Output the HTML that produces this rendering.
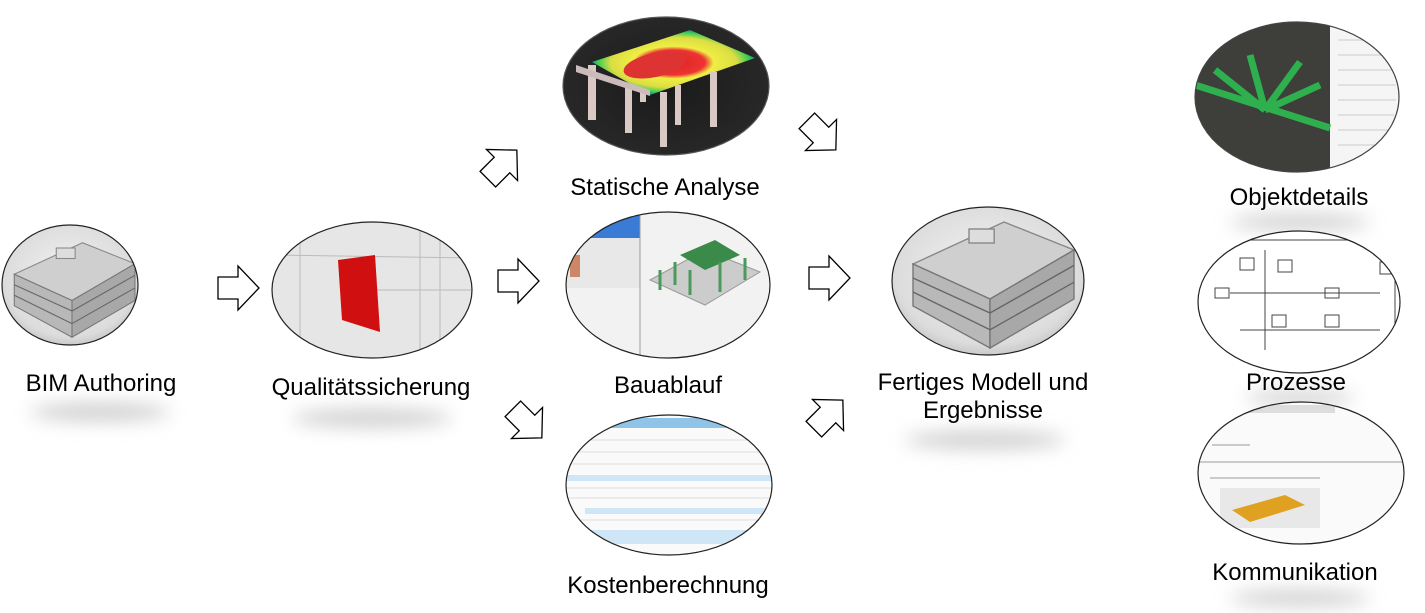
<!DOCTYPE html>
<html><head><meta charset="utf-8"><style>
html,body{margin:0;padding:0;background:#fff;}
svg{display:block;}
text{font-family:"Liberation Sans",Arial,sans-serif;font-size:24px;fill:#000;}
</style></head><body>
<svg width="1425" height="613" viewBox="0 0 1425 613" xmlns="http://www.w3.org/2000/svg">
<defs>
<filter id="blur" x="-50%" y="-50%" width="200%" height="200%"><feGaussianBlur stdDeviation="9"/></filter>
<radialGradient id="lg" cx="50%" cy="45%" r="60%"><stop offset="0" stop-color="#f4f4f4"/><stop offset="0.8" stop-color="#dcdcdc"/><stop offset="1" stop-color="#bdbdbd"/></radialGradient>
<radialGradient id="dk" cx="50%" cy="50%" r="60%"><stop offset="0" stop-color="#1a1a1a"/><stop offset="1" stop-color="#2a2a2a"/></radialGradient>
<radialGradient id="heat" cx="50%" cy="50%" r="55%"><stop offset="0" stop-color="#d22"/><stop offset="0.35" stop-color="#e33"/><stop offset="0.45" stop-color="#ee4"/><stop offset="0.7" stop-color="#dd4"/><stop offset="0.85" stop-color="#3c5"/><stop offset="1" stop-color="#23d"/></radialGradient>
<clipPath id="c1"><ellipse cx="70" cy="285" rx="68" ry="60"/></clipPath>
<clipPath id="c2"><ellipse cx="372" cy="290" rx="100" ry="68"/></clipPath>
<clipPath id="c3"><ellipse cx="666" cy="86" rx="103" ry="69"/></clipPath>
<clipPath id="c4"><ellipse cx="668" cy="285" rx="102" ry="73"/></clipPath>
<clipPath id="c5"><ellipse cx="669" cy="485" rx="103" ry="70"/></clipPath>
<clipPath id="c6"><ellipse cx="988" cy="281" rx="96" ry="74"/></clipPath>
<clipPath id="c7"><ellipse cx="1297" cy="97" rx="102" ry="75"/></clipPath>
<clipPath id="c8"><ellipse cx="1299" cy="302" rx="101" ry="71"/></clipPath>
<clipPath id="c9"><ellipse cx="1301" cy="473" rx="103" ry="71"/></clipPath>
<path id="arr" d="M-20,-11 L0,-11 L0,-22 L21,0 L0,22 L0,11 L-20,11 Z" fill="#fff" stroke="#000" stroke-width="1.3"/>
<g id="bld">
 <polygon points="-55,-15 10,-45 60,-25 0,10" fill="#cfcfcf" stroke="#888"/>
 <polygon points="-55,-15 0,10 0,45 -55,15" fill="#b8b8b8" stroke="#777"/>
 <polygon points="0,10 60,-25 60,10 0,45" fill="#a8a8a8" stroke="#777"/>
 <g stroke="#666" stroke-width="1"><line x1="-55" y1="-5" x2="0" y2="20"/><line x1="-55" y1="5" x2="0" y2="32"/><line x1="0" y1="20" x2="60" y2="-14"/><line x1="0" y1="32" x2="60" y2="-2"/></g>
 <rect x="-15" y="-40" width="18" height="10" fill="#ddd" stroke="#888"/>
</g>
</defs>

<g filter="url(#blur)" fill="#cfcfcf">
<ellipse cx="100" cy="412" rx="70" ry="9"/>
<ellipse cx="372" cy="418" rx="80" ry="9"/>
<ellipse cx="985" cy="440" rx="80" ry="9"/>
<ellipse cx="1300" cy="222" rx="70" ry="8"/>
<ellipse cx="1300" cy="398" rx="55" ry="7"/>
<ellipse cx="1300" cy="598" rx="70" ry="8"/>
</g>

<!-- BIM Authoring -->
<ellipse cx="70" cy="285" rx="68" ry="60" fill="url(#lg)"/>
<g clip-path="url(#c1)"><use href="#bld" transform="translate(72,290) scale(1.05)"/></g>
<ellipse cx="70" cy="285" rx="68" ry="60" fill="none" stroke="#222" stroke-width="1.2"/>
<text x="101" y="391" text-anchor="middle">BIM Authoring</text>

<use href="#arr" transform="translate(238,288)"/>

<!-- Qualitätssicherung -->
<ellipse cx="372" cy="290" rx="100" ry="68" fill="#e6e6e6"/>
<g clip-path="url(#c2)">
<g stroke="#bbb" stroke-width="1"><line x1="270" y1="255" x2="475" y2="258"/><line x1="300" y1="220" x2="300" y2="360"/><line x1="420" y1="220" x2="420" y2="360"/><line x1="440" y1="220" x2="440" y2="360"/><line x1="350" y1="290" x2="475" y2="290"/></g>
<polygon points="338,260 375,255 380,332 342,320" fill="#d01010"/>
</g>
<ellipse cx="372" cy="290" rx="100" ry="68" fill="none" stroke="#222" stroke-width="1.2"/>
<text x="371" y="395" text-anchor="middle">Qualitätssicherung</text>

<use href="#arr" transform="translate(502,165) rotate(-45)"/>
<use href="#arr" transform="translate(518,281)"/>
<use href="#arr" transform="translate(527,423) rotate(45)"/>

<!-- Statische Analyse -->
<ellipse cx="666" cy="86" rx="103" ry="69" fill="url(#dk)"/>
<g clip-path="url(#c3)">
<polygon points="592,62 690,30 755,58 650,95" fill="url(#heat)"/>
<ellipse cx="655" cy="65" rx="32" ry="12" fill="#d33" transform="rotate(-12 655 65)"/>
<g fill="#d9c8c4"><rect x="588" y="65" width="8" height="55"/><rect x="625" y="88" width="7" height="45"/><rect x="660" y="92" width="7" height="55"/><rect x="675" y="85" width="6" height="40"/><rect x="710" y="72" width="7" height="55"/><rect x="640" y="90" width="6" height="12"/></g>
<polygon points="576,65 650,90 650,96 576,72" fill="#cbb"/>
</g>
<ellipse cx="666" cy="86" rx="103" ry="69" fill="none" stroke="#555" stroke-width="1.2"/>
<text x="665" y="195" text-anchor="middle">Statische Analyse</text>

<!-- Bauablauf -->
<ellipse cx="668" cy="285" rx="102" ry="73" fill="#f2f2f2"/>
<g clip-path="url(#c4)">
<rect x="565" y="215" width="75" height="23" fill="#3a7bd5"/>
<rect x="565" y="238" width="75" height="50" fill="#e8e8e8"/>
<rect x="570" y="255" width="10" height="22" fill="#c86"/>
<line x1="640" y1="210" x2="640" y2="360" stroke="#999"/>
<polygon points="650,280 705,250 760,272 705,305" fill="#ccc" stroke="#999"/>
<polygon points="680,255 715,240 740,255 705,270" fill="#3a8a4a"/>
<g stroke="#4a9a5a" stroke-width="3"><line x1="660" y1="270" x2="660" y2="290"/><line x1="675" y1="262" x2="675" y2="285"/><line x1="690" y1="270" x2="690" y2="295"/><line x1="720" y1="262" x2="720" y2="292"/><line x1="745" y1="258" x2="745" y2="280"/></g>
</g>
<ellipse cx="668" cy="285" rx="102" ry="73" fill="none" stroke="#222" stroke-width="1.2"/>
<text x="668" y="393" text-anchor="middle">Bauablauf</text>

<!-- Kostenberechnung -->
<ellipse cx="669" cy="485" rx="103" ry="70" fill="#fafafa"/>
<g clip-path="url(#c5)">
<rect x="610" y="418" width="130" height="10" fill="#8fc4e8"/>
<g fill="#cfe6f6"><rect x="566" y="475" width="210" height="6"/><rect x="585" y="508" width="185" height="6"/><rect x="590" y="530" width="170" height="14"/></g>
<g stroke="#ddd" stroke-width="1">
<line x1="566" y1="440" x2="772" y2="440"/><line x1="566" y1="452" x2="772" y2="452"/><line x1="566" y1="464" x2="772" y2="464"/><line x1="566" y1="488" x2="772" y2="488"/><line x1="566" y1="498" x2="772" y2="498"/><line x1="566" y1="520" x2="772" y2="520"/></g>
</g>
<ellipse cx="669" cy="485" rx="103" ry="70" fill="none" stroke="#222" stroke-width="1.2"/>
<text x="668" y="593" text-anchor="middle">Kostenberechnung</text>

<use href="#arr" transform="translate(821,135) rotate(45)"/>
<use href="#arr" transform="translate(829,278)"/>
<use href="#arr" transform="translate(828,415) rotate(-45)"/>

<!-- Fertiges Modell -->
<ellipse cx="988" cy="281" rx="96" ry="74" fill="url(#lg)"/>
<g clip-path="url(#c6)"><use href="#bld" transform="translate(990,285) scale(1.4)"/></g>
<ellipse cx="988" cy="281" rx="96" ry="74" fill="none" stroke="#222" stroke-width="1.2"/>
<text x="983" y="390" text-anchor="middle">Fertiges Modell und</text>
<text x="983" y="418" text-anchor="middle">Ergebnisse</text>

<!-- Objektdetails -->
<ellipse cx="1297" cy="97" rx="102" ry="75" fill="#3e3e3a"/>
<g clip-path="url(#c7)">
<rect x="1330" y="20" width="72" height="155" fill="#f5f5f5"/>
<g stroke="#2fb04f" stroke-width="7"><line x1="1195" y1="85" x2="1330" y2="128"/><line x1="1265" y1="110" x2="1250" y2="55"/><line x1="1265" y1="110" x2="1300" y2="62"/><line x1="1265" y1="110" x2="1320" y2="85"/><line x1="1265" y1="110" x2="1215" y2="70"/></g>
<g stroke="#ccc" stroke-width="1"><line x1="1338" y1="40" x2="1390" y2="40"/><line x1="1338" y1="55" x2="1395" y2="55"/><line x1="1338" y1="70" x2="1396" y2="70"/><line x1="1338" y1="85" x2="1396" y2="85"/><line x1="1338" y1="100" x2="1396" y2="100"/><line x1="1338" y1="115" x2="1394" y2="115"/><line x1="1338" y1="130" x2="1390" y2="130"/><line x1="1338" y1="145" x2="1380" y2="145"/></g>
</g>
<ellipse cx="1297" cy="97" rx="102" ry="75" fill="none" stroke="#444" stroke-width="1.2"/>
<text x="1299" y="205" text-anchor="middle">Objektdetails</text>

<!-- Prozesse -->
<ellipse cx="1299" cy="302" rx="101" ry="71" fill="#fff"/>
<g clip-path="url(#c8)">
<g fill="none" stroke="#444" stroke-width="1"><rect x="1215" y="288" width="14" height="10"/><rect x="1240" y="258" width="14" height="12"/><rect x="1278" y="260" width="14" height="12"/><rect x="1325" y="288" width="14" height="10"/><rect x="1380" y="262" width="12" height="12"/><rect x="1272" y="315" width="14" height="12"/><rect x="1325" y="315" width="14" height="12"/><line x1="1230" y1="293" x2="1380" y2="293"/><line x1="1200" y1="240" x2="1400" y2="240"/><line x1="1240" y1="330" x2="1380" y2="330"/><line x1="1265" y1="250" x2="1265" y2="350"/><line x1="1395" y1="255" x2="1395" y2="340"/></g>
</g>
<ellipse cx="1299" cy="302" rx="101" ry="71" fill="none" stroke="#222" stroke-width="1.2"/>
<text x="1296" y="390" text-anchor="middle">Prozesse</text>

<!-- Kommunikation -->
<ellipse cx="1301" cy="473" rx="103" ry="71" fill="#fafafa"/>
<g clip-path="url(#c9)">
<rect x="1225" y="405" width="110" height="8" fill="#ddd"/>
<g stroke="#999" stroke-width="1"><line x1="1212" y1="445" x2="1250" y2="445"/><line x1="1198" y1="462" x2="1404" y2="462"/><line x1="1210" y1="478" x2="1320" y2="478"/></g>
<rect x="1220" y="488" width="100" height="40" fill="#e8e8e8"/>
<polygon points="1232,510 1285,495 1305,505 1250,522" fill="#e0a020"/>
</g>
<ellipse cx="1301" cy="473" rx="103" ry="71" fill="none" stroke="#222" stroke-width="1.2"/>
<text x="1295" y="580" text-anchor="middle">Kommunikation</text>
</svg>
</body></html>
